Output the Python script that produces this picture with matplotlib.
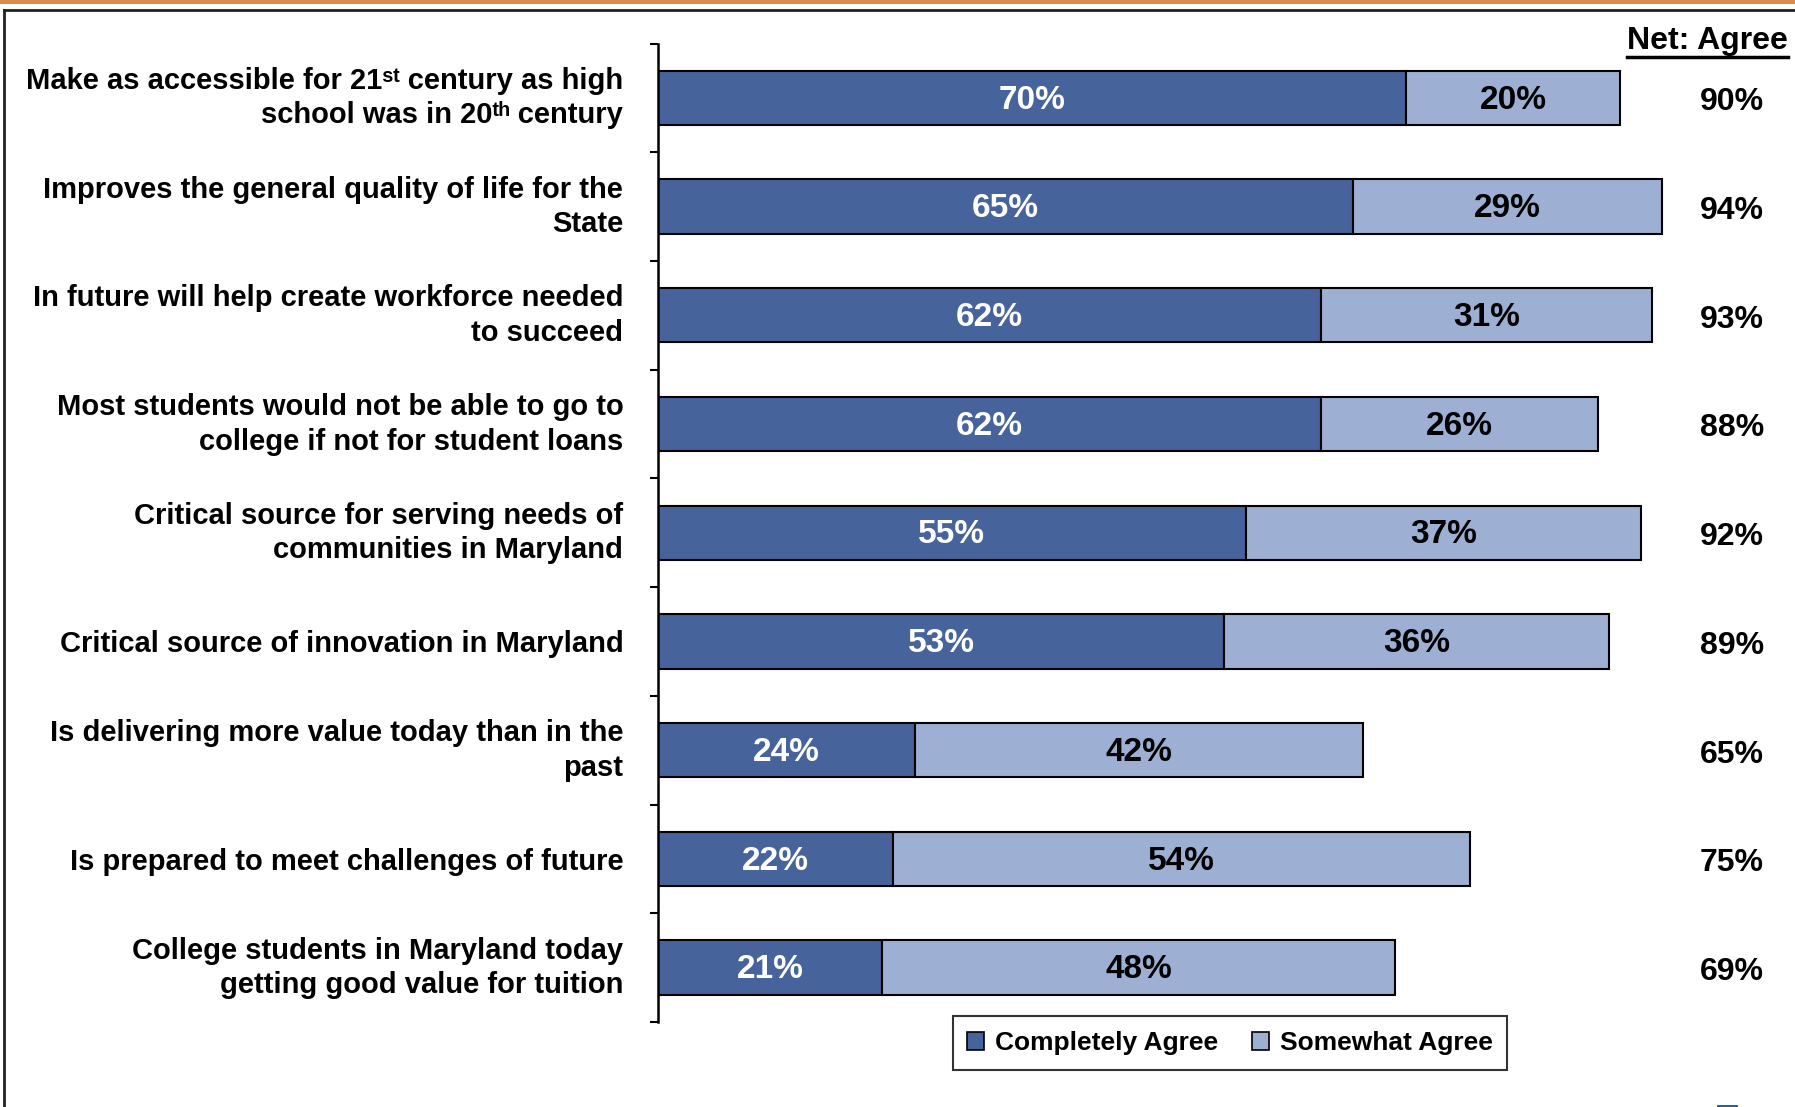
import numpy as np
import matplotlib
matplotlib.use("Agg")
import matplotlib.pyplot as plt
import matplotlib.transforms as mtransforms
from matplotlib.patches import Rectangle, Patch
from matplotlib.lines import Line2D

plt.rcParams['font.family'] = ['Liberation Sans', 'DejaVu Sans']
plt.rcParams['font.weight'] = 'bold'

#Data
categories = [
    "Make as accessible for 21\u02e2\u1d57 century as high\nschool was in 20\u1d57\u02b0 century",
    "Improves the general quality of life for the\nState",
    "In future will help create workforce needed\nto succeed",
    "Most students would not be able to go to\ncollege if not for student loans",
    "Critical source for serving needs of\ncommunities in Maryland",
    "Critical source of innovation in Maryland",
    "Is delivering more value today than in the\npast",
    "Is prepared to meet challenges of future",
    "College students in Maryland today\ngetting good value for tuition",
]
completely = [70, 65, 62, 62, 55, 53, 24, 22, 21]
somewhat = [20, 29, 31, 26, 37, 36, 42, 54, 48]
net_agree = [90, 94, 93, 88, 92, 89, 65, 75, 69]

dark = '#46649B'
light = '#9DB0D4'

fig = plt.figure(figsize=(17.95, 11.07), dpi=100)
ax = fig.add_axes([0.3666, 0.0768, 0.6334, 0.8839])

y = np.arange(len(categories))
ax.barh(y, completely, height=0.5, color=dark, edgecolor='black', linewidth=1.5)
ax.barh(y, somewhat, left=completely, height=0.5, color=light, edgecolor='black', linewidth=1.5)

for i in range(len(y)):
    ax.text(completely[i] / 2, y[i] + 0.02, f"{completely[i]}%", ha='center', va='center',
            color='white', fontsize=24, fontweight='bold')
    ax.text(completely[i] + somewhat[i] / 2, y[i] + 0.02, f"{somewhat[i]}%", ha='center', va='center',
            color='black', fontsize=24, fontweight='bold')
    ax.text(100.5, y[i] + 0.04, f"{net_agree[i]}%", ha='center', va='center',
            color='black', fontsize=23, fontweight='bold', clip_on=False)

ax.set_xlim(0, 106.4)
ax.set_ylim(len(y) - 0.5, -0.5)

#category labels on major ticks, boundary marks on minor ticks
ax.set_yticks(y)
ax.set_yticklabels(categories, fontsize=21, fontweight='bold')
ax.set_yticks(np.arange(len(y) + 1) - 0.5, minor=True)
ax.tick_params(axis='y', which='major', length=0, pad=25)
ax.tick_params(axis='y', which='minor', length=6, width=1.5, direction='out')
shift_up = mtransforms.ScaledTranslation(0, 6 / 100, fig.dpi_scale_trans)
for lab in ax.get_yticklabels():
    lab.set_linespacing(1.3)
    if '\n' in lab.get_text():
        lab.set_transform(lab.get_transform() + shift_up)
ax.set_xticks([])
for s in ['top', 'right', 'bottom']:
    ax.spines[s].set_visible(False)
ax.spines['left'].set_linewidth(1.8)

# header with underline sized to the text
hdr = fig.text(1788 / 1795, 1 - 41 / 1107, "Net: Agree", ha='right', va='center',
               fontsize=23, fontweight='bold')
fig.canvas.draw()
bb = hdr.get_window_extent().transformed(fig.transFigure.inverted())
fig.add_artist(Line2D([bb.x0, bb.x1], [1 - 57 / 1107, 1 - 57 / 1107],
                      color='black', linewidth=2.5))

handles = [Patch(facecolor=dark, edgecolor='black', linewidth=1.2, label='Completely Agree'),
           Patch(facecolor=light, edgecolor='black', linewidth=1.2, label='Somewhat Agree')]
leg = fig.legend(handles=handles, loc='center', bbox_to_anchor=(1230 / 1795, 1 - 1043 / 1107),
                 ncol=2, fontsize=19, frameon=True, fancybox=False, edgecolor='black',
                 handlelength=0.65, handleheight=0.65, handletextpad=0.4, columnspacing=1.3,
                 borderpad=0.55)
leg.get_frame().set_linewidth(1.5)
for t in leg.get_texts():
    t.set_fontweight('bold')

#slide frame: orange band on top, dark border lines
fig.add_artist(Rectangle((0, 1 - 4 / 1107), 1, 4 / 1107, transform=fig.transFigure,
                         color='#D98B47', linewidth=0))
fig.add_artist(Line2D([4 / 1795, 1], [1 - 10 / 1107, 1 - 10 / 1107], color='#222222', linewidth=2))
fig.add_artist(Line2D([4 / 1795, 4 / 1795], [0, 1 - 10 / 1107], color='#222222', linewidth=2))
fig.add_artist(Rectangle((1717 / 1795, 0), 21 / 1795, 2.5 / 1107, transform=fig.transFigure,
                         color='#2E5FA0', linewidth=0))

fig.savefig('out.png', dpi=100)
